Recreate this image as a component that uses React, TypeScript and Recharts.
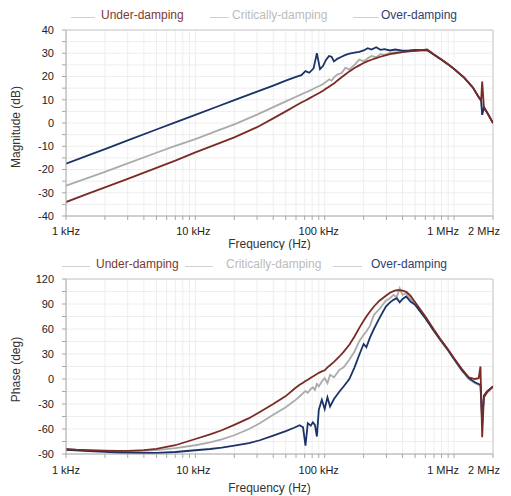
import { LineChart, Line, XAxis, YAxis, CartesianGrid, ReferenceLine } from "recharts";

const FONT = '"Liberation Sans", Arial, Helvetica, sans-serif';

// series names, legend order
const seriesNames = ["Under-damping", "Critically-damping", "Over-damping"];

// magnitude (dB) vs frequency (Hz)
const magFreq = [
  1000, 1500, 2000, 3000, 5000, 7000, 10000, 15000, 20000, 30000, 40000, 50000, 60000,
  66000, 71000, 76000, 82000, 87000, 92000, 97000, 102000, 108000, 113000, 118000, 125000,
  135000, 145000, 155000, 170000, 185000, 200000, 215000, 230000, 250000, 270000, 290000,
  320000, 350000, 400000, 450000, 500000, 560000, 620000, 700000, 800000, 900000, 1000000,
  1200000, 1400000, 1550000, 1620000, 1650000, 1700000, 1800000, 2000000,
];
const magUnder = [
  -34, -30.3, -27.7, -24, -19.3, -16.2, -12.6, -8.9, -6.2, -1.8, 2, 5, 7.5,
  8.8, 9.7, 10.6, 11.6, 12.4, 13.1, 13.9, 14.7, 15.6, 16.3, 17, 18.2,
  19.7, 21, 22.2, 23.7, 24.8, 25.8, 26.6, 27.2, 27.9, 28.5, 29,
  29.6, 30, 30.5, 30.8, 31, 31.3, 31.6, 29.5, 27.3, 25.3, 23.3,
  19.5, 15.3, 11.2, 10, 17.8, 7, 4.5, 0,
];
const magCritical = [
  -27, -23.5, -21, -17.4, -12.8, -9.8, -6.9, -3.2, -0.6, 3.6, 6.8, 9.3, 11.3,
  12.3, 13.1, 13.8, 14.7, 15.5, 16, 16.8, 17.6, 18.8, 18.2, 19.6, 20.8,
  21.5, 23.8, 23, 25, 27.3, 26.5, 27.8, 28.8, 28.3, 29.6, 29.3,
  30.2, 30.4, 30.6, 31, 31.1, 31.2, 31.3, 29.4, 27.2, 25.2, 23.2,
  19.4, 15.2, 11.1, 9.6, 3.5, 6.8, 4.5, 0,
];
const magOver = [
  -17.5, -13.8, -11.2, -7.5, -2.8, 0.3, 3.5, 7.2, 9.8, 13.5, 16.1, 18.2, 19.8,
  20.6, 22.3, 21.6, 23.5, 30, 23.2, 24.5, 27, 28.8, 28.5, 26.5, 27.6,
  28.5, 29.3, 29.8, 30.3, 30.6, 31.2, 32.2, 31.6, 32.6, 31.5, 31.8,
  31.2, 31.6, 31.1, 31.2, 31.4, 31.3, 31.3, 29.4, 27.2, 25.2, 23.2,
  19.4, 15.2, 11.1, 9.6, 3.5, 6.5, 4.5, 0,
];

// phase (deg) vs frequency (Hz)
const phaseFreq = [
  1000, 1200, 1500, 2000, 2500, 3000, 4000, 5000, 7000, 10000,
  13000, 16000, 20000, 26000, 31500, 40000, 50000, 58000, 64000,
  68000, 71000, 74000, 78000, 81000, 84000, 87000, 90000, 95000,
  100000, 105000, 110000, 118000, 130000, 140000, 155000, 170000, 186000,
  200000, 210000, 224000, 240000, 265000, 297000, 320000, 340000, 360000,
  380000, 400000, 427000, 460000, 500000, 600000, 700000, 800000, 900000,
  1000000, 1150000, 1300000, 1450000, 1550000, 1600000, 1650000, 1700000, 1800000, 2000000,
];
const phaseUnder = [
  -84, -84.8, -85.4, -86, -86.3, -86.2, -85.3, -83.8, -79.5, -72,
  -66.5, -61.5, -55, -47, -39.5, -30, -20.5, -12, -7,
  -4.5, -2.5, -0.8, 1.5, 3, 4.6, 6, 7.4, 9.2,
  10.5, 14, 16.5, 20.5, 27, 32.5, 41, 51, 62,
  70, 75, 81, 87, 94, 100, 103.5, 105.5, 106.5,
  106.5, 106, 104.5, 100, 92, 75, 59, 46, 35.5,
  25, 12, 2, 0, 1, 15, -70, -22, -16, -9,
];
const phaseCritical = [
  -85, -85.5, -86, -86.6, -86.8, -86.8, -86.3, -85.3, -83, -79.5,
  -76, -72.5, -67.5, -60, -53, -43, -34, -26.5, -21,
  -17, -14.5, -16.5, -12, -10, -13, -6, -9, -3,
  1, -5, 5, 2, 11, 14, 23, 33, 46,
  53, 57, 64, 77, 84, 94, 97, 101, 98,
  109, 101, 103, 96, 90, 73, 57, 44.5, 34,
  23.5, 10, 0, -5, -7, -8, -55, -22, -16, -9,
];
const phaseOver = [
  -85, -85.6, -86.5, -87.5, -88.2, -88.5, -88.8, -88.8, -87.6, -85.5,
  -84, -82.3, -80, -77, -73.5, -68, -62.5, -58.5, -55.5,
  -58, -80, -53, -56, -52, -55, -69, -37, -25,
  -36, -22, -33, -24, -15, -9, 0, 14, 30,
  42, 38, 50, 60, 73, 87, 92, 95, 97,
  92, 96, 99, 93, 89, 73, 57.5, 45, 34.5,
  24, 10.5, 1, -4, -6, -7, -50, -20, -15, -9,
];

// axes
const xTicks = [
  1000, 2000, 3000, 4000, 5000, 6000, 7000, 8000, 9000,
  10000, 20000, 30000, 40000, 50000, 60000, 70000, 80000, 90000,
  100000, 200000, 300000, 400000, 500000, 600000, 700000, 800000, 900000,
  1000000, 2000000,
];
const xTickLabels: Record<number, string> = {
  1000: "1 kHz",
  10000: "10 kHz",
  100000: "100 kHz",
  1000000: "1 MHz",
  2000000: "2 MHz",
};
// small horizontal nudges so labels sit like the original
const xLabelNudge: Record<number, number> = {
  1000: 0,
  10000: -2,
  100000: -6,
  1000000: -11,
  2000000: -9,
};
const magTicks = [-40, -35, -30, -25, -20, -15, -10, -5, 0, 5, 10, 15, 20, 25, 30, 35, 40];
const phaseTicks = [-90, -75, -60, -45, -30, -15, 0, 15, 30, 45, 60, 75, 90, 105, 120];

const colors = { under: "#7a2b25", critical: "#ababab", over: "#1b3366" };
const legendText = ["#7d3833", "#bcbcbc", "#2e4170"];

const magRows = magFreq.map((f, i) => ({
  f,
  under: magUnder[i],
  critical: magCritical[i],
  over: magOver[i],
}));
const phaseRows = phaseFreq.map((f, i) => ({
  f,
  under: phaseUnder[i],
  critical: phaseCritical[i],
  over: phaseOver[i],
}));

const FreqTick = (props: any) => {
  const { x, y, payload } = props;
  const label = xTickLabels[payload.value];
  if (!label) return null;
  return (
    <text
      x={x + (xLabelNudge[payload.value] || 0)}
      y={y}
      dy="0.71em"
      textAnchor="middle"
      fontSize={11}
      fill="#222"
      fontFamily={FONT}
    >
      {label}
    </text>
  );
};

const YTitle = (props: any) => {
  const { viewBox, title, shift } = props;
  const cx = viewBox.x + 16;
  const cy = viewBox.y + viewBox.height / 2 + (shift || 0);
  return (
    <text
      x={cx}
      y={cy}
      transform={`rotate(-90 ${cx} ${cy})`}
      textAnchor="middle"
      dominantBaseline="central"
      fontSize={12}
      fill="#333"
      fontFamily={FONT}
    >
      {title}
    </text>
  );
};

const XTitle = (props: any) => {
  const { viewBox, title, dy } = props;
  return (
    <text
      x={viewBox.x + viewBox.width / 2 - 10}
      y={viewBox.y + dy}
      textAnchor="middle"
      dominantBaseline="central"
      fontSize={12}
      fill="#333"
      fontFamily={FONT}
    >
      {title}
    </text>
  );
};

type LegendPos = { line: [number, number]; text: number };

const LegendRow = ({ top, items }: { top: number; items: LegendPos[] }) => (
  <>
    {items.map((it, i) => (
      <div key={i}>
        <div
          style={{
            position: "absolute",
            left: it.line[0],
            top: top + 2,
            width: it.line[1] - it.line[0],
            height: 1,
            background: "#cfcfcf",
          }}
        />
        <div
          style={{
            position: "absolute",
            left: it.text,
            top: top - 7,
            height: 14,
            lineHeight: "14px",
            fontSize: 12,
            color: legendText[i],
            whiteSpace: "nowrap",
          }}
        >
          {seriesNames[i]}
        </div>
      </div>
    ))}
  </>
);

type BodeProps = {
  rows: any[];
  height: number;
  marginTop: number;
  xAxisHeight: number;
  tickMargin: number;
  yDomain: [number, number];
  yTicks: number[];
  labelStep: number;
  yTitle: string;
  yShift: number;
  xTitleDy: number;
};

const BodeChart = (p: BodeProps) => (
  <LineChart
    width={511}
    height={p.height}
    data={p.rows}
    margin={{ top: p.marginTop, right: 18, left: 0, bottom: 0 }}
  >
    <CartesianGrid stroke="#eeeeee" strokeWidth={1} />
    <XAxis
      dataKey="f"
      type="number"
      scale="log"
      domain={[1000, 2000000]}
      ticks={xTicks}
      interval={0}
      height={p.xAxisHeight}
      tick={<FreqTick />}
      tickSize={4}
      tickMargin={p.tickMargin}
      stroke="#a8a8a8"
      allowDataOverflow
      label={<XTitle title="Frequency (Hz)" dy={p.xTitleDy} />}
    />
    <YAxis
      type="number"
      domain={p.yDomain}
      ticks={p.yTicks}
      interval={0}
      width={66}
      tickFormatter={(v: number) => (v % p.labelStep === 0 ? String(v) : "")}
      tick={{ fontSize: 11, fill: "#222", fontFamily: FONT }}
      tickSize={4}
      tickMargin={8}
      stroke="#a8a8a8"
      allowDataOverflow
      label={<YTitle title={p.yTitle} shift={p.yShift} />}
    />
    <ReferenceLine y={p.yDomain[1]} stroke="#c8c8c8" />
    <ReferenceLine x={2000000} stroke="#c8c8c8" />
    <Line
      dataKey="critical"
      type="linear"
      stroke={colors.critical}
      strokeWidth={1.8}
      dot={false}
      isAnimationActive={false}
    />
    <Line
      dataKey="over"
      type="linear"
      stroke={colors.over}
      strokeWidth={1.8}
      dot={false}
      isAnimationActive={false}
    />
    <Line
      dataKey="under"
      type="linear"
      stroke={colors.under}
      strokeWidth={1.8}
      dot={false}
      isAnimationActive={false}
    />
  </LineChart>
);

export default function App() {
  return (
    <div
      style={{
        position: "absolute",
        left: 0,
        top: 0,
        width: 511,
        height: 496,
        background: "#fff",
        fontFamily: FONT,
        overflow: "hidden",
      }}
    >
      <LegendRow
        top={15}
        items={[
          { line: [71, 95], text: 101 },
          { line: [210, 229], text: 232 },
          { line: [353, 379], text: 381 },
        ]}
      />
      <div style={{ position: "absolute", left: 0, top: 0 }}>
        <BodeChart
          rows={magRows}
          height={250}
          marginTop={30}
          xAxisHeight={34}
          tickMargin={7}
          yDomain={[-40, 40]}
          yTicks={magTicks}
          labelStep={10}
          yTitle="Magnitude (dB)"
          yShift={4}
          xTitleDy={28}
        />
      </div>
      <LegendRow
        top={264}
        items={[
          { line: [62, 90], text: 96 },
          { line: [185, 213], text: 226 },
          { line: [333, 362], text: 371 },
        ]}
      />
      <div style={{ position: "absolute", left: 0, top: 250 }}>
        <BodeChart
          rows={phaseRows}
          height={246}
          marginTop={29}
          xAxisHeight={42}
          tickMargin={8}
          yDomain={[-90, 120]}
          yTicks={phaseTicks}
          labelStep={30}
          yTitle="Phase (deg)"
          yShift={3}
          xTitleDy={34}
        />
      </div>
    </div>
  );
}
